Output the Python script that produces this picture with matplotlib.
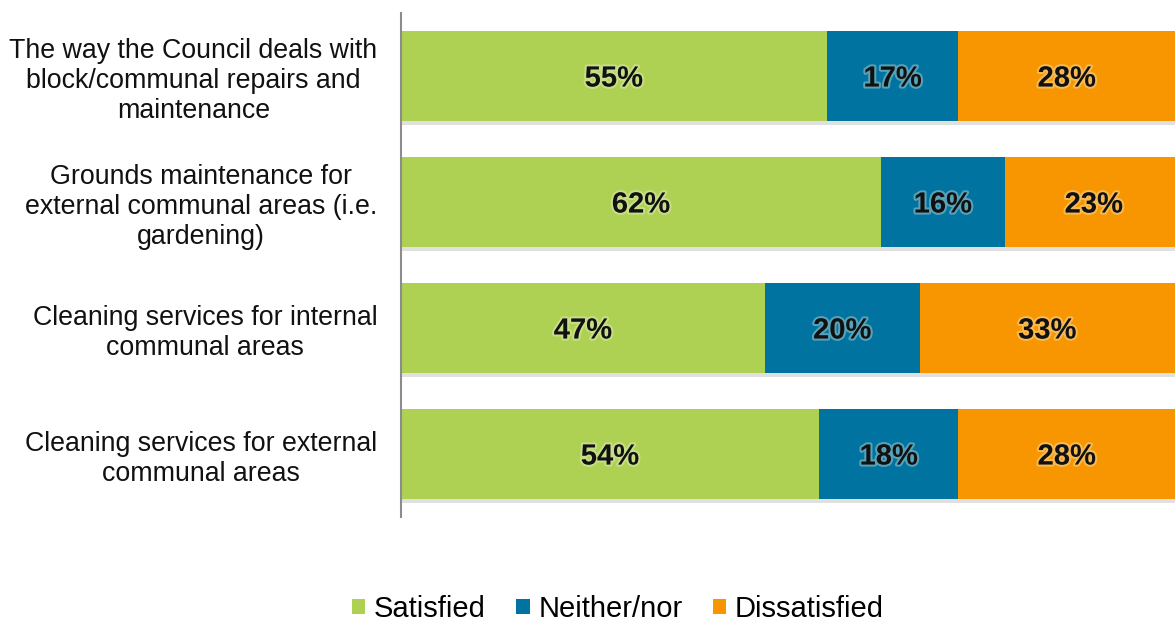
import matplotlib
matplotlib.use("Agg")
import matplotlib.pyplot as plt
import matplotlib.patheffects as pe
from matplotlib.patches import Patch
import numpy as np

plt.rcParams["font.family"] = ["Liberation Sans", "DejaVu Sans"]

categories = [
    "The way the Council deals with\nblock/communal repairs and\nmaintenance",
    "Grounds maintenance for\nexternal communal areas (i.e.\ngardening)",
    "Cleaning services for internal\ncommunal areas",
    "Cleaning services for external\ncommunal areas",
]
satisfied = [55, 62, 47, 54]
neither = [17, 16, 20, 18]
dissatisfied = [28, 23, 33, 28]

series = [
    ("Satisfied", satisfied, "#AED053"),
    ("Neither/nor", neither, "#0073A1"),
    ("Dissatisfied", dissatisfied, "#F79600"),
]

fig = plt.figure(figsize=(11.75, 6.24), dpi=100)
ax = fig.add_axes([401 / 1175, 107 / 624, 774 / 1175, 504 / 624])

y = np.arange(len(categories))
left = np.zeros(len(categories))
shadow = [pe.SimplePatchShadow(offset=(0, -2.5), shadow_rgbFace="#999999", alpha=0.3),
          pe.Normal()]
glow = [pe.withStroke(linewidth=3, foreground="#f7fbe6", alpha=0.35)]

for name, vals, color in series:
    vals = np.array(vals, dtype=float)
    bars = ax.barh(y, vals, left=left, height=0.72, color=color, edgecolor="none")
    for b in bars:
        b.set_path_effects(shadow)
    for yi, l, v in zip(y, left, vals):
        ax.text(l + v / 2, yi + 0.02, f"{v:.0f}%", ha="center", va="center",
                fontsize=21, fontweight="bold", color="#111111",
                path_effects=glow)
    left += vals

ax.set_xlim(0, 100)
ax.set_ylim(3.5, -0.5)
ax.set_yticks(y)
ax.set_yticklabels(categories, fontsize=19.3, color="#111111")
for t in ax.get_yticklabels():
    t.set_multialignment("center")
    t.set_linespacing(1.2)
ax.tick_params(axis="y", length=0, pad=17)
ax.set_xticks([])
for s in ["top", "right", "bottom"]:
    ax.spines[s].set_visible(False)
ax.spines["left"].set_color("#8c8c8c")
ax.spines["left"].set_linewidth(1.5)

handles = [Patch(facecolor=c, edgecolor="none", label=n) for n, _, c in series]
fig.legend(handles=handles, loc="center", bbox_to_anchor=(0.526, 0.024), ncol=3,
           frameon=False, fontsize=21, handlelength=0.45, handleheight=0.45,
           handletextpad=0.3, columnspacing=1.05)

fig.savefig("out.png", dpi=100)
